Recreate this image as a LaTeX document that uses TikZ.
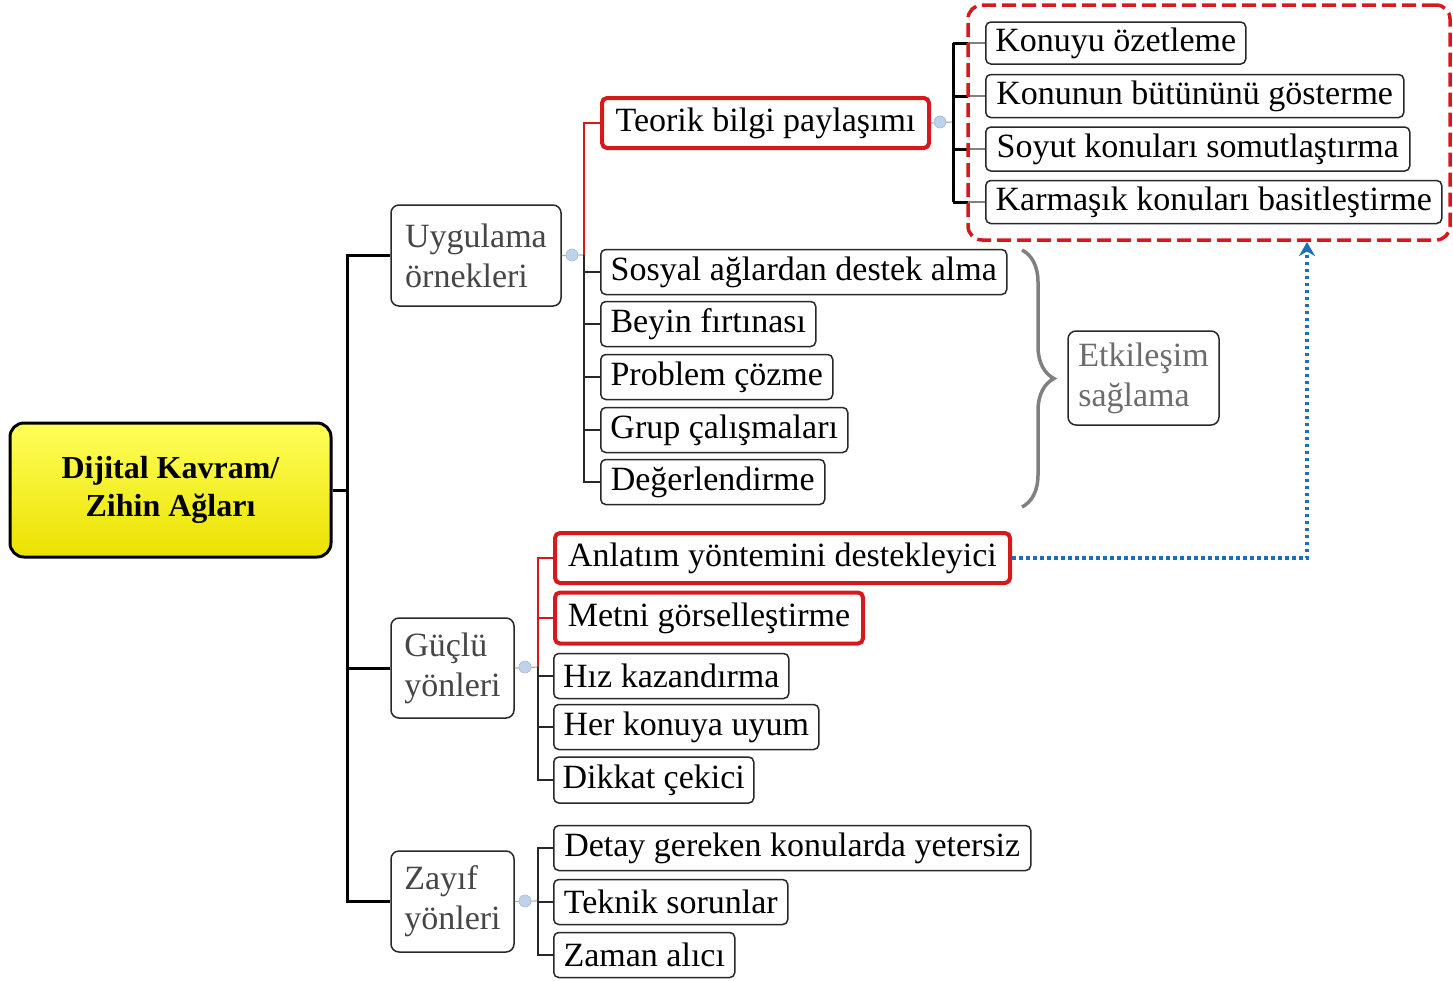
\documentclass[tikz,border=0pt]{standalone}
\usepackage{fontspec}
\setmainfont{Liberation Serif}
\usetikzlibrary{arrows.meta,decorations.pathreplacing}
\definecolor{bdr}{RGB}{40,40,40}
\definecolor{hired}{RGB}{215,25,30}
\definecolor{catgray}{RGB}{70,70,70}
\definecolor{dotblue}{RGB}{30,110,190}
\definecolor{knob}{RGB}{190,210,235}
\begin{document}
\begin{tikzpicture}[x=1pt,y=-1pt,
  every node/.style={font=\fontsize{34}{40}\selectfont},
  leaf/.style={draw=bdr, line width=1.5pt, rounded corners=5pt, minimum height=45pt,
    inner xsep=8pt, inner ysep=0pt, anchor=west, fill=white},
  redleaf/.style={leaf, draw=hired, line width=4pt, minimum height=50pt},
  cat/.style={draw=bdr, line width=1.5pt, rounded corners=8pt, align=left,
    text=catgray, inner xsep=10pt, fill=white},
  rootbox/.style={draw=black, line width=3pt, rounded corners=14pt,
    top color={rgb,255:red,255;green,255;blue,90}, bottom color={rgb,255:red,235;green,225;blue,0},
    align=center, font=\fontsize{32}{38}\selectfont\bfseries},
  trunk/.style={draw=black, line width=3pt},
  twig/.style={draw=bdr, line width=1.3pt},
  redtwig/.style={draw=hired, line width=1.2pt},
  stub/.style={draw=knob!60!gray, line width=1.2pt},
  knobc/.style={circle, fill=knob, draw=knob!70!gray, line width=0.6pt, minimum size=12pt, inner sep=0pt},
  groupbox/.style={draw=hired, line width=3.5pt, dash pattern=on 14pt off 6pt, rounded corners=14pt,
    minimum width=482pt, minimum height=235pt},
  dotarrow/.style={draw=dotblue, line width=4pt, dash pattern=on 3.5pt off 3.5pt,
    -{Stealth[length=14pt,width=16pt]}},
  bracestyle/.style={draw=gray, line width=3.5pt, decorate,
    decoration={brace, amplitude=32pt}}
]
\useasboundingbox (0,0) rectangle (1453,980);

% root
\node[rootbox, minimum width=321pt, minimum height=134pt] (root) at (170.5,490) {Dijital Kavram/\\Zihin Ağları};

% category nodes
\node[cat, minimum width=170pt, minimum height=101pt] (u) at (476,255.5) {Uygulama\\örnekleri};
\node[cat, minimum width=123pt, minimum height=100pt] (g) at (452.5,668) {Güçlü\\yönleri};
\node[cat, minimum width=123pt, minimum height=101pt] (z) at (452.5,901.5) {Zayıf\\yönleri};

% trunk
\coordinate (j) at (347,490);
\draw[trunk] (root.east) -- (j);
\draw[trunk] (j) |- (u.west);
\draw[trunk] (j) |- (g.west);
\draw[trunk] (j) |- (z.west);

% Uygulama children
\node[redleaf, minimum width=327pt] (tb) at (600,123) {Teorik bilgi paylaşımı};
\node[leaf, minimum width=406pt] (s1) at (600,272) {Sosyal ağlardan destek alma};
\node[leaf, minimum width=215pt] (s2) at (600,324) {Beyin fırtınası};
\node[leaf, minimum width=232pt] (s3) at (600,377) {Problem çözme};
\node[leaf, minimum width=247pt] (s4) at (600,430) {Grup çalışmaları};
\node[leaf, minimum width=224pt] (s5) at (600,482) {Değerlendirme};

\coordinate (uj) at (584,255);
\draw[stub] (u.east) -- (uj);
\draw[redtwig] (uj) |- (tb.west);
\draw[twig] (uj) |- (s1.west);
\draw[twig] (uj) |- (s2.west);
\draw[twig] (uj) |- (s3.west);
\draw[twig] (uj) |- (s4.west);
\draw[twig] (uj) |- (s5.west);
\node[knobc] (uk) at (572,255) {};

% Teorik children
\node[leaf, minimum width=260pt, minimum height=42pt] (k1) at (985,43) {Konuyu özetleme};
\node[leaf, minimum width=418pt, minimum height=43pt] (k2) at (985,96) {Konunun bütününü gösterme};
\node[leaf, minimum width=424pt, minimum height=44pt] (k3) at (985,149) {Soyut konuları somutlaştırma};
\node[leaf, minimum width=456pt, minimum height=43pt] (k4) at (985,202) {Karmaşık konuları basitleştirme};

\coordinate (tj) at (953,122);
\draw[stub] (tb.east) -- (tj);
\node[knobc] (tk) at (940,122) {};
\draw[trunk] (tj |- k1.west) -- (tj |- k4.west);
\foreach \k in {k1,k2,k3,k4}{
  \draw[trunk] (tj |- \k.west) -- ++(15,0) coordinate (\k-m);
  \draw[draw=gray, line width=2pt] (\k-m) -- (\k.west);
}

% dashed group box
\node[groupbox] (grp) at (1209,122.5) {};

% brace and Etkileşim
\coordinate (bt) at (1022,250);
\coordinate (bb) at (1022,507);
\draw[bracestyle] (bt) -- (bb);
\node[cat, text=gray!85!black, minimum width=151pt, minimum height=94pt] (et) at (1143.5,378) {Etkileşim\\sağlama};

% Güçlü children
\node[redleaf, minimum width=455pt] (a1) at (553,558) {Anlatım yöntemini destekleyici};
\node[redleaf, minimum width=308pt, minimum height=51pt] (a2) at (553,618) {Metni görselleştirme};
\node[leaf, minimum width=235pt] (g3) at (553,676) {Hız kazandırma};
\node[leaf, minimum width=265pt] (g4) at (553,727) {Her konuya uyum};
\node[leaf, minimum width=200pt, minimum height=46pt] (g5) at (553,780) {Dikkat çekici};

\coordinate (gj) at (538,667);
\draw[stub] (g.east) -- (gj);
\draw[redtwig] (gj) |- (a1.west);
\draw[redtwig] (gj) |- (a2.west);
\draw[twig] (gj) |- (g3.west);
\draw[twig] (gj) |- (g4.west);
\draw[twig] (gj) |- (g5.west);
\node[knobc] (gk) at (525,667) {};

% Zayıf children
\node[leaf, minimum width=477pt] (z1) at (553,848) {Detay gereken konularda yetersiz};
\node[leaf, minimum width=234pt] (z2) at (553,902) {Teknik sorunlar};
\node[leaf, minimum width=181pt] (z3) at (553,955) {Zaman alıcı};

\coordinate (zj) at (538,901);
\draw[stub] (z.east) -- (zj);
\draw[twig] (zj) |- (z1.west);
\draw[twig] (zj) |- (z2.west);
\draw[twig] (zj) |- (z3.west);
\node[knobc] (zk) at (525,901) {};

% dotted arrow
\coordinate (at) at (1307,242);
\draw[dotarrow] (a1.east) -| (at);
\end{tikzpicture}
\end{document}
